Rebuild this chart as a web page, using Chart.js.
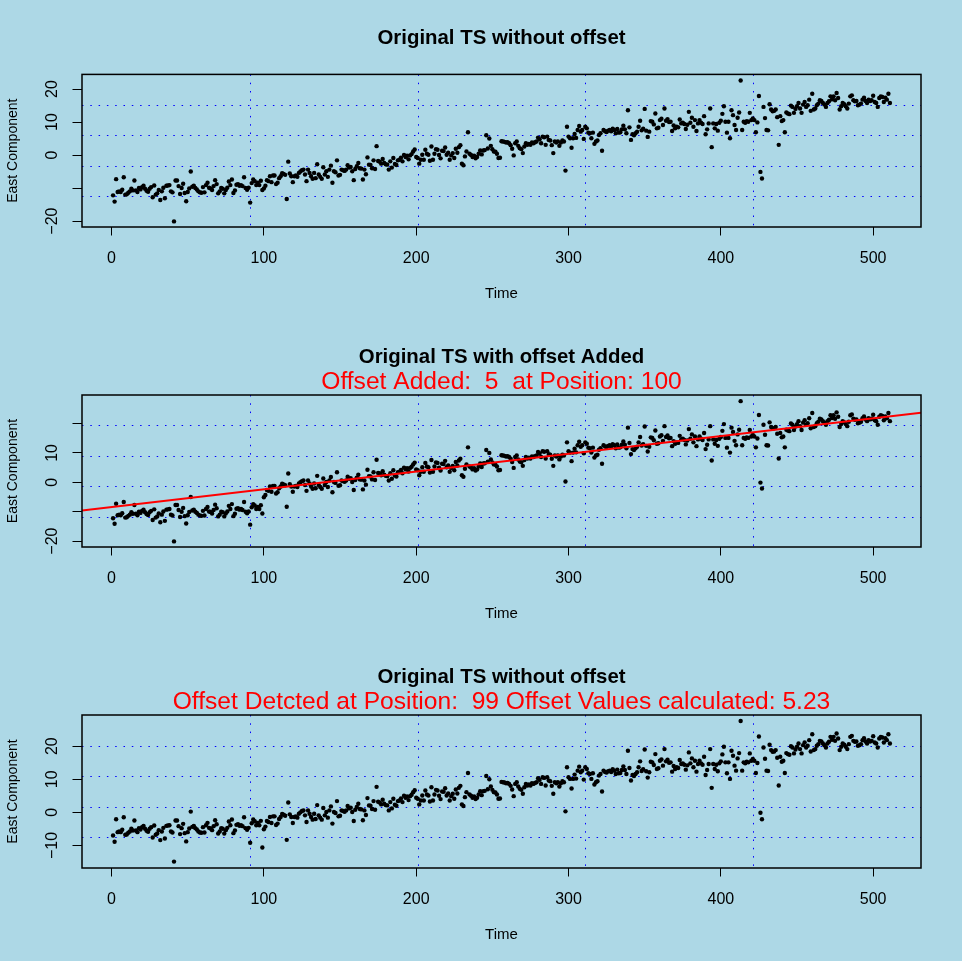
<!DOCTYPE html>
<html><head><meta charset="utf-8"><title>Offset detection</title>
<script src="https://cdn.jsdelivr.net/npm/chart.js@4.4.1/dist/chart.umd.min.js"></script>
<style>
html,body{margin:0;padding:0;background:#ADD8E6;overflow:hidden}
canvas{display:block}
</style></head><body>
<canvas id="c1" width="962" height="320"></canvas>
<canvas id="c2" width="962" height="320"></canvas>
<canvas id="c3" width="962" height="321"></canvas>
<script>
// Panel 1: original series (East component), t = 1..511
const eastOriginal = [
-12.2,-14.1,-7.3,-11.2,-11.0,-11.2,-10.5,-6.7,-12.0,-11.9,
-11.4,-11.0,-10.2,-10.7,-7.7,-10.7,-11.2,-10.0,-10.4,-9.7,
-9.3,-10.2,-10.8,-11.1,-10.2,-9.7,-12.8,-9.2,-12.0,-11.6,
-10.6,-13.6,-11.0,-9.9,-13.1,-9.3,-9.2,-9.1,-11.0,-11.3,
-20.1,-7.7,-7.7,-9.4,-11.8,-10.0,-8.7,-11.5,-14.0,-11.2,
-10.1,-5.0,-9.6,-9.3,-10.0,-10.4,-11.0,-11.3,-11.4,-9.7,
-11.3,-9.1,-8.4,-9.9,-10.1,-10.6,-9.4,-7.6,-8.8,-11.6,
-11.0,-10.0,-10.2,-11.6,-10.6,-9.9,-8.0,-9.1,-7.4,-11.5,
-10.7,-9.0,-8.8,-9.3,-9.1,-9.4,-6.7,-10.0,-10.5,-9.9,
-14.4,-8.5,-7.4,-7.9,-9.1,-8.4,-9.1,-7.8,-10.6,-10.1,
-9.3,-7.6,-7.9,-6.4,-8.2,-6.2,-6.2,-8.8,-8.4,-7.0,
-6.4,-5.5,-5.7,-6.0,-13.3,-2.0,-5.6,-6.4,-8.2,-6.4,
-6.2,-6.6,-5.4,-5.0,-4.6,-4.4,-5.9,-7.9,-4.4,-5.4,
-6.4,-7.2,-5.4,-7.0,-2.8,-5.9,-6.6,-7.2,-3.7,-5.9,
-4.9,-6.6,-4.4,-3.2,-8.4,-4.9,-5.2,-1.6,-6.2,-6.0,
-4.4,-4.6,-4.8,-4.4,-3.1,-3.8,-3.6,-4.9,-7.6,-4.2,
-3.4,-2.4,-4.0,-4.1,-7.4,-4.4,-5.8,-0.7,-2.9,-3.0,
-4.0,-1.6,-4.2,2.7,-1.8,-2.0,-2.6,-1.2,-2.4,-2.8,
-2.9,-4.4,-1.9,-3.8,-0.9,-2.7,-3.0,-1.6,-1.4,-0.8,
-1.9,0.0,-0.6,-0.2,-1.3,-0.1,0.3,1.1,1.7,-0.6,
-0.9,-2.6,-1.4,0.1,-1.4,1.6,0.4,0.1,-1.7,2.6,
-1.4,0.4,1.8,1.6,0.0,-1.0,1.3,1.2,2.3,0.1,
0.7,-1.4,-0.1,0.6,-0.9,1.9,0.7,2.4,3.0,-2.6,
-3.1,-0.4,1.1,6.9,0.4,0.0,-0.6,-0.2,-1.0,-0.6,
0.4,1.4,0.2,1.4,1.5,6.0,2.0,5.0,2.8,1.8,
1.1,1.0,0.4,-0.9,-0.8,4.2,4.1,4.0,3.8,3.9,
3.6,3.0,1.9,-0.1,3.6,4.1,2.8,2.1,1.8,0.6,
2.6,3.6,3.1,3.4,3.1,3.8,3.6,3.9,4.1,5.3,
4.8,3.6,5.6,5.4,3.1,5.6,4.6,4.4,3.0,0.6,
4.1,3.8,4.1,2.8,3.8,4.4,4.1,-4.7,8.6,5.6,
5.1,2.2,5.1,6.4,5.2,7.6,8.8,7.1,7.6,4.9,
8.6,8.1,6.8,6.6,5.1,6.8,3.4,4.1,4.4,6.1,
6.6,1.3,7.6,7.2,7.0,7.4,7.6,7.2,8.0,7.6,
6.6,7.9,6.8,6.9,7.8,8.9,7.8,6.6,13.6,8.4,
4.6,6.3,6.0,6.6,7.1,8.6,10.4,7.5,8.0,14.0,
7.4,5.5,7.1,10.3,10.1,9.3,12.6,8.1,8.3,10.6,
11.0,9.1,14.1,10.4,10.9,10.0,10.1,7.3,9.0,8.1,
8.6,8.4,10.8,9.6,9.8,9.4,7.9,9.2,13.1,9.8,
11.3,8.6,10.6,7.3,9.6,10.6,9.8,9.4,11.8,6.3,
7.8,9.6,14.1,2.4,9.6,8.1,9.4,7.4,9.8,10.4,
12.5,14.8,10.1,6.8,10.1,5.1,13.6,12.1,9.1,7.6,
11.3,12.9,22.6,7.6,10.1,9.8,10.3,10.1,12.8,10.6,
11.1,10.6,6.9,9.9,17.9,-5.1,-7.1,14.6,11.2,7.6,
7.5,15.4,13.8,13.3,13.4,13.8,11.5,3.1,11.8,10.3,
10.6,6.9,12.9,12.6,12.4,15.0,14.6,12.8,14.0,14.8,
15.8,14.1,12.8,15.3,16.1,14.6,15.1,16.8,13.4,18.6,
13.8,14.1,15.1,15.6,16.6,16.4,15.8,15.3,14.6,15.8,
16.3,17.8,16.9,17.8,16.6,18.8,17.3,13.8,14.8,15.8,
15.4,14.8,14.1,15.6,17.8,18.1,16.6,16.3,16.4,15.1,
15.3,15.6,16.8,17.4,16.4,15.8,16.8,16.4,16.6,18.0,
16.1,15.8,14.6,17.3,17.8,17.6,16.1,17.4,16.8,18.6,
15.8
];

// Panel 2: series with the offset added from position 100
const eastWithOffset = [
-12.2,-14.1,-7.3,-11.2,-11.0,-11.2,-10.5,-6.7,-12.0,-11.9,
-11.4,-11.0,-10.2,-10.7,-7.7,-10.7,-11.2,-10.0,-10.4,-9.7,
-9.3,-10.2,-10.8,-11.1,-10.2,-9.7,-12.8,-9.2,-12.0,-11.6,
-10.6,-13.6,-11.0,-9.9,-13.1,-9.3,-9.2,-9.1,-11.0,-11.3,
-20.1,-7.7,-7.7,-9.4,-11.8,-10.0,-8.7,-11.5,-14.0,-11.2,
-10.1,-5.0,-9.6,-9.3,-10.0,-10.4,-11.0,-11.3,-11.4,-9.7,
-11.3,-9.1,-8.4,-9.9,-10.1,-10.6,-9.4,-7.6,-8.8,-11.6,
-11.0,-10.0,-10.2,-11.6,-10.6,-9.9,-8.0,-9.1,-7.4,-11.5,
-10.7,-9.0,-8.8,-9.3,-9.1,-9.4,-6.7,-10.0,-10.5,-9.9,
-14.4,-8.5,-7.4,-7.9,-9.1,-8.4,-9.1,-7.8,-10.6,-5.1,
-4.3,-2.6,-2.9,-1.4,-3.2,-1.2,-1.2,-3.8,-3.4,-2.0,
-1.4,-0.5,-0.7,-1.0,-8.3,3.0,-0.6,-1.4,-3.2,-1.4,
-1.2,-1.6,-0.4,0.0,0.4,0.6,-0.9,-2.9,0.6,-0.4,
-1.4,-2.2,-0.4,-2.0,2.2,-0.9,-1.6,-2.2,1.3,-0.9,
0.1,-1.6,0.6,1.8,-3.4,0.1,-0.2,3.4,-1.2,-1.0,
0.6,0.4,0.2,0.6,1.9,1.2,1.4,0.1,-2.6,0.8,
1.6,2.6,1.0,0.9,-2.4,0.6,-0.8,4.3,2.1,2.0,
1.0,3.4,0.8,7.7,3.2,3.0,2.4,3.8,2.6,2.2,
2.1,0.6,3.1,1.2,4.1,2.3,2.0,3.4,3.6,4.2,
3.1,5.0,4.4,4.8,3.7,4.9,5.3,6.1,6.7,4.4,
4.1,2.4,3.6,5.1,3.6,6.6,5.4,5.1,3.3,7.6,
3.6,5.4,6.8,6.6,5.0,4.0,6.3,6.2,7.3,5.1,
5.7,3.6,4.9,5.6,4.1,6.9,5.7,7.4,8.0,2.4,
1.9,4.6,6.1,11.9,5.4,5.0,4.4,4.8,4.0,4.4,
5.4,6.4,5.2,6.4,6.5,11.0,7.0,10.0,7.8,6.8,
6.1,6.0,5.4,4.1,4.2,9.2,9.1,9.0,8.8,8.9,
8.6,8.0,6.9,4.9,8.6,9.1,7.8,7.1,6.8,5.6,
7.6,8.6,8.1,8.4,8.1,8.8,8.6,8.9,9.1,10.3,
9.8,8.6,10.6,10.4,8.1,10.6,9.6,9.4,8.0,5.6,
9.1,8.8,9.1,7.8,8.8,9.4,9.1,0.3,13.6,10.6,
10.1,7.2,10.1,11.4,10.2,12.6,13.8,12.1,12.6,9.9,
13.6,13.1,11.8,11.6,10.1,11.8,8.4,9.1,9.4,11.1,
11.6,6.3,12.6,12.2,12.0,12.4,12.6,12.2,13.0,12.6,
11.6,12.9,11.8,11.9,12.8,13.9,12.8,11.6,18.6,13.4,
9.6,11.3,11.0,11.6,12.1,13.6,15.4,12.5,13.0,19.0,
12.4,10.5,12.1,15.3,15.1,14.3,17.6,13.1,13.3,15.6,
16.0,14.1,19.1,15.4,15.9,15.0,15.1,12.3,14.0,13.1,
13.6,13.4,15.8,14.6,14.8,14.4,12.9,14.2,18.1,14.8,
16.3,13.6,15.6,12.3,14.6,15.6,14.8,14.4,16.8,11.3,
12.8,14.6,19.1,7.4,14.6,13.1,14.4,12.4,14.8,15.4,
17.5,19.8,15.1,11.8,15.1,10.1,18.6,17.1,14.1,12.6,
16.3,17.9,27.6,12.6,15.1,14.8,15.3,15.1,17.8,15.6,
16.1,15.6,11.9,14.9,22.9,-0.1,-2.1,19.6,16.2,12.6,
12.5,20.4,18.8,18.3,18.4,18.8,16.5,8.1,16.8,15.3,
15.6,11.9,17.9,17.6,17.4,20.0,19.6,17.8,19.0,19.8,
20.8,19.1,17.8,20.3,21.1,19.6,20.1,21.8,18.4,23.6,
18.8,19.1,20.1,20.6,21.6,21.4,20.8,20.3,19.6,20.8,
21.3,22.8,21.9,22.8,21.6,23.8,22.3,18.8,19.8,20.8,
20.4,19.8,19.1,20.6,22.8,23.1,21.6,21.3,21.4,20.1,
20.3,20.6,21.8,22.4,21.4,20.8,21.8,21.4,21.6,23.0,
21.1,20.8,19.6,22.3,22.8,22.6,21.1,22.4,21.8,23.6,
20.8
];

// Panel 3: series after the detected offset was applied
const eastCorrected = [
-6.97,-8.87,-2.07,-5.97,-5.77,-5.97,-5.27,-1.47,-6.77,-6.67,
-6.17,-5.77,-4.97,-5.47,-2.47,-5.47,-5.97,-4.77,-5.17,-4.47,
-4.07,-4.97,-5.57,-5.87,-4.97,-4.47,-7.57,-3.97,-6.77,-6.37,
-5.37,-8.37,-5.77,-4.67,-7.87,-4.07,-3.97,-3.87,-5.77,-6.07,
-14.87,-2.47,-2.47,-4.17,-6.57,-4.77,-3.47,-6.27,-8.77,-5.97,
-4.87,0.23,-4.37,-4.07,-4.77,-5.17,-5.77,-6.07,-6.17,-4.47,
-6.07,-3.87,-3.17,-4.67,-4.87,-5.37,-4.17,-2.37,-3.57,-6.37,
-5.77,-4.77,-4.97,-6.37,-5.37,-4.67,-2.77,-3.87,-2.17,-6.27,
-5.47,-3.77,-3.57,-4.07,-3.87,-4.17,-1.47,-4.77,-5.27,-4.67,
-9.17,-3.27,-2.17,-2.67,-3.87,-3.17,-3.87,-2.57,-10.6,-5.1,
-4.3,-2.6,-2.9,-1.4,-3.2,-1.2,-1.2,-3.8,-3.4,-2.0,
-1.4,-0.5,-0.7,-1.0,-8.3,3.0,-0.6,-1.4,-3.2,-1.4,
-1.2,-1.6,-0.4,0.0,0.4,0.6,-0.9,-2.9,0.6,-0.4,
-1.4,-2.2,-0.4,-2.0,2.2,-0.9,-1.6,-2.2,1.3,-0.9,
0.1,-1.6,0.6,1.8,-3.4,0.1,-0.2,3.4,-1.2,-1.0,
0.6,0.4,0.2,0.6,1.9,1.2,1.4,0.1,-2.6,0.8,
1.6,2.6,1.0,0.9,-2.4,0.6,-0.8,4.3,2.1,2.0,
1.0,3.4,0.8,7.7,3.2,3.0,2.4,3.8,2.6,2.2,
2.1,0.6,3.1,1.2,4.1,2.3,2.0,3.4,3.6,4.2,
3.1,5.0,4.4,4.8,3.7,4.9,5.3,6.1,6.7,4.4,
4.1,2.4,3.6,5.1,3.6,6.6,5.4,5.1,3.3,7.6,
3.6,5.4,6.8,6.6,5.0,4.0,6.3,6.2,7.3,5.1,
5.7,3.6,4.9,5.6,4.1,6.9,5.7,7.4,8.0,2.4,
1.9,4.6,6.1,11.9,5.4,5.0,4.4,4.8,4.0,4.4,
5.4,6.4,5.2,6.4,6.5,11.0,7.0,10.0,7.8,6.8,
6.1,6.0,5.4,4.1,4.2,9.2,9.1,9.0,8.8,8.9,
8.6,8.0,6.9,4.9,8.6,9.1,7.8,7.1,6.8,5.6,
7.6,8.6,8.1,8.4,8.1,8.8,8.6,8.9,9.1,10.3,
9.8,8.6,10.6,10.4,8.1,10.6,9.6,9.4,8.0,5.6,
9.1,8.8,9.1,7.8,8.8,9.4,9.1,0.3,13.6,10.6,
10.1,7.2,10.1,11.4,10.2,12.6,13.8,12.1,12.6,9.9,
13.6,13.1,11.8,11.6,10.1,11.8,8.4,9.1,9.4,11.1,
11.6,6.3,12.6,12.2,12.0,12.4,12.6,12.2,13.0,12.6,
11.6,12.9,11.8,11.9,12.8,13.9,12.8,11.6,18.6,13.4,
9.6,11.3,11.0,11.6,12.1,13.6,15.4,12.5,13.0,19.0,
12.4,10.5,12.1,15.3,15.1,14.3,17.6,13.1,13.3,15.6,
16.0,14.1,19.1,15.4,15.9,15.0,15.1,12.3,14.0,13.1,
13.6,13.4,15.8,14.6,14.8,14.4,12.9,14.2,18.1,14.8,
16.3,13.6,15.6,12.3,14.6,15.6,14.8,14.4,16.8,11.3,
12.8,14.6,19.1,7.4,14.6,13.1,14.4,12.4,14.8,15.4,
17.5,19.8,15.1,11.8,15.1,10.1,18.6,17.1,14.1,12.6,
16.3,17.9,27.6,12.6,15.1,14.8,15.3,15.1,17.8,15.6,
16.1,15.6,11.9,14.9,22.9,-0.1,-2.1,19.6,16.2,12.6,
12.5,20.4,18.8,18.3,18.4,18.8,16.5,8.1,16.8,15.3,
15.6,11.9,17.9,17.6,17.4,20.0,19.6,17.8,19.0,19.8,
20.8,19.1,17.8,20.3,21.1,19.6,20.1,21.8,18.4,23.6,
18.8,19.1,20.1,20.6,21.6,21.4,20.8,20.3,19.6,20.8,
21.3,22.8,21.9,22.8,21.6,23.8,22.3,18.8,19.8,20.8,
20.4,19.8,19.1,20.6,22.8,23.1,21.6,21.3,21.4,20.1,
20.3,20.6,21.8,22.4,21.4,20.8,21.8,21.4,21.6,23.0,
21.1,20.8,19.6,22.3,22.8,22.6,21.1,22.4,21.8,23.6,
20.8
];

// fitted trend line of panel 2 (value at the left and right plot edges)
const trendX = [-19.4, 531.4];
const trendY = [-9.6, 23.7];

const xTickValues = [0, 100, 200, 300, 400, 500];
const xTickLabels = ['0', '100', '200', '300', '400', '500'];
const yTickValues1 = [-20, -10, 0, 10, 20];
const yTickLabels1 = ['\u221220', '', '0', '10', '20'];
const yTickValues2 = [-20, -10, 0, 10, 20];
const yTickLabels2 = ['\u221220', '', '0', '10', ''];
const yTickValues3 = [-10, 0, 10, 20];
const yTickLabels3 = ['\u221210', '0', '10', '20'];

const xRange = [-19.4, 531.4];
const yRange1 = [-21.8, 24.45];
const yRange2 = [-22.0, 29.7];
const yRange3 = [-16.8, 29.4];

const titles = ['Original TS without offset', 'Original TS with offset Added', 'Original TS without offset'];
const subtitles = ['', 'Offset Added:  5  at Position: 100', 'Offset Detcted at Position:  99 Offset Values calculated: 5.23'];
const xAxisTitle = 'Time';
const yAxisTitle = 'East Component';

const timeIndex = eastOriginal.map((_, i) => i + 1);

const FONT = "'Liberation Sans', Arial, Helvetica, sans-serif";
Chart.defaults.font.family = FONT;
Chart.defaults.color = '#000';

const framePlugin = {
  id: 'framePlugin',
  beforeDatasetsDraw(chart) {
    const { ctx, chartArea: a } = chart;
    ctx.save();
    ctx.strokeStyle = '#0000FF';
    ctx.lineWidth = 1;
    ctx.setLineDash([1.5, 6.8]);
    ctx.beginPath();
    for (let k = 1; k < 5; k++) {
      const x = Math.round(a.left + k * (a.right - a.left) / 5) + 0.5;
      ctx.moveTo(x, a.top); ctx.lineTo(x, a.bottom);
      const y = Math.round(a.top + k * (a.bottom - a.top) / 5) + 0.5;
      ctx.moveTo(a.left, y); ctx.lineTo(a.right, y);
    }
    ctx.stroke();
    ctx.restore();
  },
  afterDraw(chart) {
    const { ctx, chartArea: a } = chart;
    ctx.save();
    ctx.strokeStyle = '#000';
    ctx.lineWidth = 1.5;
    ctx.strokeRect(a.left, a.top, a.right - a.left, a.bottom - a.top);
    ctx.restore();
  }
};

function makePanel(id, values, yRange, yTicks, yLabels, title, subtitle, withTrend) {
  const datasets = [];
  if (withTrend) {
    datasets.push({
      data: trendX.map((x, i) => ({ x: x, y: trendY[i] })),
      showLine: true, borderColor: '#FF0000', borderWidth: 2,
      pointRadius: 0, pointHoverRadius: 0, order: 0
    });
  }
  datasets.push({
    data: values.map((v, i) => ({ x: timeIndex[i], y: v })),
    showLine: false, pointRadius: 2.2, pointHoverRadius: 2.2,
    backgroundColor: '#000', borderColor: '#000', borderWidth: 0, order: 1
  });
  const hasSub = subtitle.length > 0;
  new Chart(document.getElementById(id), {
    type: 'scatter',
    data: { datasets },
    options: {
      responsive: false, animation: false, events: [],
      layout: { padding: { left: 0, right: 41, top: 0, bottom: 0 } },
      plugins: {
        legend: { display: false },
        tooltip: { enabled: false },
        title: {
          display: true, text: title, color: '#000', fullSize: false,
          font: { family: FONT, size: 20.4, weight: 'bold', lineHeight: 1 },
          padding: hasSub ? { top: 27, bottom: 3 } : { top: 28, bottom: 26 }
        },
        subtitle: {
          display: hasSub, text: subtitle, color: '#FF0000', fullSize: false,
          font: { family: FONT, size: 24.6, weight: 'normal', lineHeight: 1 },
          padding: { top: 0, bottom: 0 }
        }
      },
      scales: {
        x: {
          type: 'linear', position: 'bottom', min: xRange[0], max: xRange[1],
          afterBuildTicks: s => { s.ticks = xTickValues.map(v => ({ value: v })); },
          afterFit: s => { s.height = 93; },
          grid: { display: true, drawOnChartArea: false, drawTicks: true, tickLength: 8.5, color: '#000', lineWidth: 1 },
          border: { display: false },
          ticks: { color: '#000', font: { size: 16 }, padding: 13, maxRotation: 0, autoSkip: false,
                   callback: (v, i) => xTickLabels[i] },
          title: { display: true, text: xAxisTitle, color: '#000', font: { size: 15, lineHeight: 1.2 }, padding: { top: 0, bottom: 17 } }
        },
        y: {
          type: 'linear', position: 'left', min: yRange[0], max: yRange[1],
          afterBuildTicks: s => { s.ticks = yTicks.map(v => ({ value: v })); },
          afterFit: s => { s.width = 82; },
          grid: { display: true, drawOnChartArea: false, drawTicks: true, tickLength: 9.5, color: '#000', lineWidth: 1 },
          border: { display: false },
          ticks: { color: '#000', font: { size: 16 }, padding: 6, minRotation: 90, maxRotation: 90,
                   crossAlign: 'center', autoSkip: false, callback: (v, i) => yLabels[i] },
          title: { display: true, text: yAxisTitle, color: '#000', font: { size: 14, lineHeight: 1.2 }, padding: { top: 5, bottom: 0 } }
        }
      }
    },
    plugins: [framePlugin]
  });
}

makePanel('c1', eastOriginal, yRange1, yTickValues1, yTickLabels1, titles[0], subtitles[0], false);
makePanel('c2', eastWithOffset, yRange2, yTickValues2, yTickLabels2, titles[1], subtitles[1], true);
makePanel('c3', eastCorrected, yRange3, yTickValues3, yTickLabels3, titles[2], subtitles[2], false);
</script>
</body></html>
